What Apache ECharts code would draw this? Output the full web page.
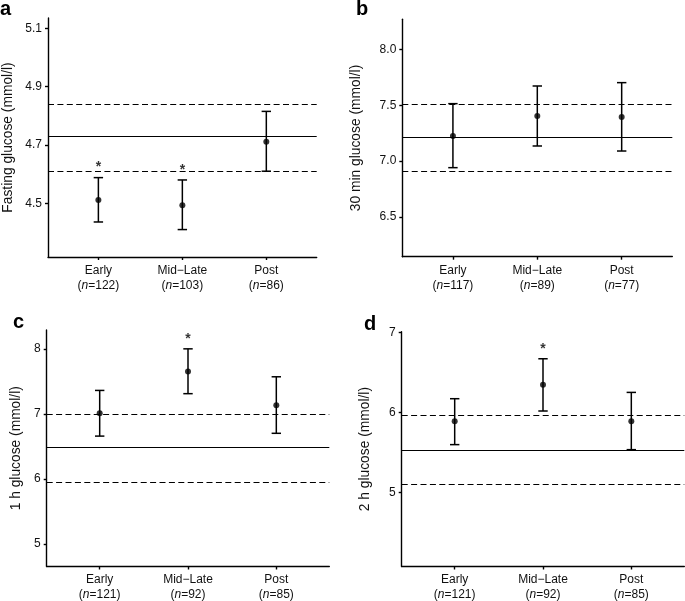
<!DOCTYPE html>
<html><head><meta charset="utf-8">
<script src="https://cdn.jsdelivr.net/npm/echarts@6/dist/echarts.min.js"></script>
<style>html,body{margin:0;padding:0;background:#fff}#c{width:685px;height:601px}</style>
</head><body><div id="c"></div>
<script>
// ---- data ----
const categories = ['Early', 'Mid\u2212Late', 'Post'];

const nA = [122, 103, 86];
const meanA = [4.511, 4.493, 4.711];
const lowerA = [4.436, 4.410, 4.610];
const upperA = [4.588, 4.580, 4.815];
const refA = [4.726, 4.611, 4.842]; // reference mean, lower, upper
const sigA = [true, true, false];
const ticksA = [4.5, 4.7, 4.9, 5.1];

const nB = [117, 89, 77];
const meanB = [7.225, 7.404, 7.395];
const lowerB = [6.942, 7.136, 7.091];
const upperB = [7.515, 7.673, 7.703];
const refB = [7.21, 6.906, 7.515];
const sigB = [false, false, false];
const ticksB = [6.5, 7.0, 7.5, 8.0];

const nC = [121, 92, 85];
const meanC = [7.01, 7.65, 7.13];
const lowerC = [6.657, 7.31, 6.70];
const upperC = [7.36, 8.0, 7.57];
const refC = [6.48, 5.95, 6.995];
const sigC = [false, true, false];
const ticksC = [5, 6, 7, 8];

const nD = [121, 92, 85];
const meanD = [5.888, 6.346, 5.888];
const lowerD = [5.596, 6.017, 5.533];
const upperD = [6.171, 6.671, 6.25];
const refD = [5.529, 5.104, 5.975];
const sigD = [false, true, false];
const ticksD = [5, 6, 7];

const titles = ['Fasting glucose (mmol/l)', '30 min glucose (mmol/l)', '1 h glucose (mmol/l)', '2 h glucose (mmol/l)'];
const panelLetters = ['a', 'b', 'c', 'd'];

// ---- layout ----
const FONT = '"Liberation Sans", Arial, Helvetica, sans-serif';
const INK = '#111';
const panels = [
  {n: nA, mean: meanA, lo: lowerA, hi: upperA, ref: refA, sig: sigA, ticks: ticksA, dec: 1,
   grid: {left: 46.7, top: 18, width: 270, height: 239}, min: 4.316, max: 5.135, nameGap: 33},
  {n: nB, mean: meanB, lo: lowerB, hi: upperB, ref: refB, sig: sigB, ticks: ticksB, dec: 1,
   grid: {left: 402.3, top: 19.3, width: 270, height: 237.4}, min: 6.145, max: 8.27, nameGap: 39},
  {n: nC, mean: meanC, lo: lowerC, hi: upperC, ref: refC, sig: sigC, ticks: ticksC, dec: 0,
   grid: {left: 46.7, top: 330, width: 282.6, height: 236.7}, min: 4.65, max: 8.29, nameGap: 24},
  {n: nD, mean: meanD, lo: lowerD, hi: upperD, ref: refD, sig: sigD, ticks: ticksD, dec: 0,
   grid: {left: 401.7, top: 331.7, width: 282.6, height: 235}, min: 4.07, max: 7.01, nameGap: 30}
];
const letterPos = [[0, 19], [356, 19], [13, 332], [364, 334]];

const grids = [], xAxes = [], yAxes = [], series = [], graphics = [];
const axisLineStyle = {color: '#000', width: 1.4};

panels.forEach((p, k) => {
  grids.push(Object.assign({containLabel: false}, p.grid));
  xAxes.push({
    type: 'value', gridIndex: k, min: -0.6, max: 2.6,
    axisLine: {show: true, onZero: false, lineStyle: axisLineStyle},
    axisTick: {show: true, length: 3, customValues: [0, 1, 2], lineStyle: axisLineStyle},
    splitLine: {show: false},
    axisLabel: {
      customValues: [0, 1, 2], margin: 6, color: INK, fontFamily: FONT, fontSize: 12,
      formatter: v => '{t|' + categories[v] + '}\n{p|(}{i|n}{p|=' + p.n[v] + ')}',
      rich: {
        t: {fontFamily: FONT, fontSize: 12, color: INK, lineHeight: 15},
        p: {fontFamily: FONT, fontSize: 12, color: INK, lineHeight: 15},
        i: {fontFamily: FONT, fontSize: 12, color: INK, lineHeight: 15, fontStyle: 'italic'}
      }
    }
  });
  yAxes.push({
    type: 'value', gridIndex: k, min: p.min, max: p.max,
    axisLine: {show: true, onZero: false, lineStyle: axisLineStyle},
    axisTick: {show: true, length: 3, customValues: p.ticks, lineStyle: axisLineStyle},
    splitLine: {show: false},
    axisLabel: {customValues: p.ticks, margin: 6, color: INK, fontFamily: FONT, fontSize: 12,
      formatter: v => v.toFixed(p.dec)},
    name: titles[k], nameLocation: 'middle', nameGap: p.nameGap,
    nameTextStyle: {fontFamily: FONT, fontSize: 13.8, color: INK}
  });
  // error bars
  series.push({
    type: 'custom', coordinateSystem: 'cartesian2d', xAxisIndex: k, yAxisIndex: k, silent: true,
    data: categories.map((c, i) => [i, p.lo[i], p.hi[i]]),
    encode: {x: 0, y: [1, 2]},
    renderItem: (params, api) => {
      const x = api.value(0);
      const a = api.coord([x, api.value(1)]);
      const b = api.coord([x, api.value(2)]);
      const w = 4.7, st = {stroke: '#000', lineWidth: 1.5};
      return {type: 'group', children: [
        {type: 'line', shape: {x1: a[0], y1: a[1], x2: b[0], y2: b[1]}, style: st},
        {type: 'line', shape: {x1: a[0] - w, y1: a[1], x2: a[0] + w, y2: a[1]}, style: st},
        {type: 'line', shape: {x1: b[0] - w, y1: b[1], x2: b[0] + w, y2: b[1]}, style: st}
      ]};
    }
  });
  // means + reference lines
  series.push({
    type: 'scatter', xAxisIndex: k, yAxisIndex: k, silent: true,
    symbol: 'circle', symbolSize: 6, itemStyle: {color: '#000'},
    data: categories.map((c, i) => [i, p.mean[i]]),
    markLine: {
      silent: true, symbol: ['none', 'none'], label: {show: false},
      data: [
        {yAxis: p.ref[0], lineStyle: {type: 'solid', color: '#000', width: 1.2}},
        {yAxis: p.ref[1], lineStyle: {type: [6, 3.4], color: '#000', width: 1.2}},
        {yAxis: p.ref[2], lineStyle: {type: [6, 3.4], color: '#000', width: 1.2}}
      ]
    }
  });
  // significance stars
  series.push({
    type: 'scatter', xAxisIndex: k, yAxisIndex: k, silent: true,
    symbol: 'circle', symbolSize: 0,
    data: categories.map((c, i) => [i, p.hi[i]]).filter((d, i) => p.sig[i]),
    label: {show: true, position: 'top', distance: 3, formatter: '*',
      fontFamily: FONT, fontSize: 14, fontWeight: 'bold', color: '#000'}
  });
  graphics.push({
    type: 'text', x: letterPos[k][0], y: letterPos[k][1],
    style: {text: panelLetters[k], font: 'bold 20px ' + FONT, fill: '#000',
      textAlign: 'left', textVerticalAlign: 'bottom'}
  });
});

const chart = echarts.init(document.getElementById('c'), null, {renderer: 'canvas'});
chart.setOption({
  backgroundColor: '#fff', animation: false,
  grid: grids, xAxis: xAxes, yAxis: yAxes, series: series, graphic: graphics
});
</script>
</body></html>
